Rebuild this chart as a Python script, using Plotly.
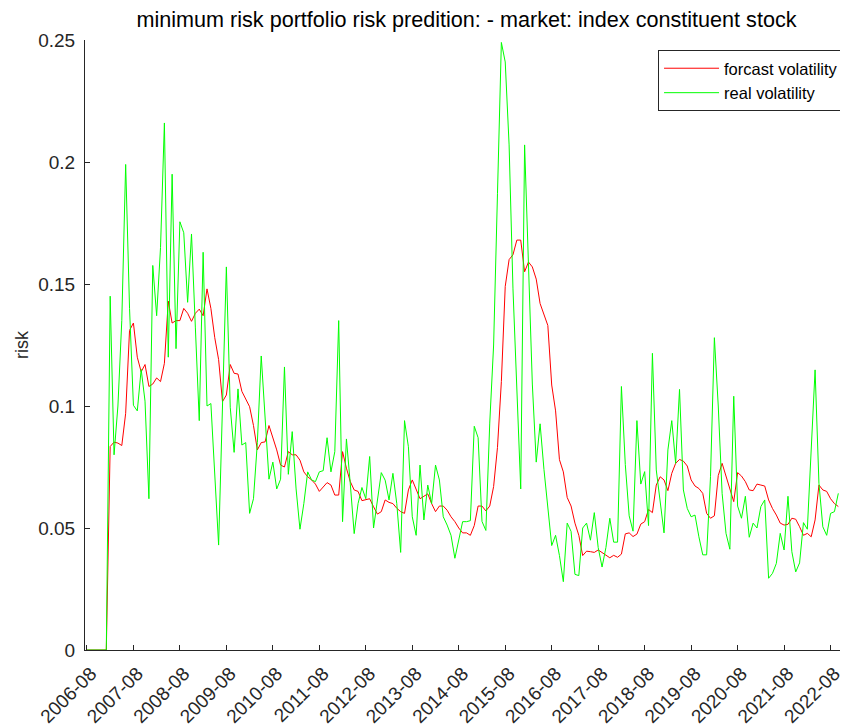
import plotly.graph_objects as go

# monthly observations, 2006-08 .. 2022-10
forecast_vol = [
    0, 0, 0, 0, 0, 0, 0.0834, 0.0852, 0.0848, 0.0838,
    0.097, 0.131, 0.134, 0.120, 0.114, 0.117, 0.108, 0.109, 0.1115, 0.110,
    0.1175, 0.143, 0.134, 0.135, 0.135, 0.140, 0.138, 0.1347, 0.138, 0.1397,
    0.137, 0.148, 0.140, 0.128, 0.119, 0.1018, 0.1045, 0.117, 0.1134, 0.1131,
    0.106, 0.1031, 0.0997, 0.092, 0.082, 0.085, 0.0853, 0.092, 0.087, 0.082,
    0.0758, 0.075, 0.0813, 0.080, 0.080, 0.0778, 0.073, 0.071, 0.0697, 0.068,
    0.065, 0.067, 0.0686, 0.0676, 0.0635, 0.0635, 0.0813, 0.0745, 0.069, 0.0656,
    0.065, 0.0612, 0.0615, 0.062, 0.0587, 0.0557, 0.0567, 0.0615, 0.0605, 0.060,
    0.0581, 0.0567, 0.056, 0.0656, 0.0697, 0.0656, 0.062, 0.063, 0.064, 0.060,
    0.0567, 0.059, 0.059, 0.0573, 0.0546, 0.0526, 0.050, 0.048, 0.048, 0.047,
    0.051, 0.059, 0.059, 0.057, 0.059, 0.067, 0.083, 0.110, 0.149, 0.160,
    0.162, 0.168, 0.168, 0.155, 0.159, 0.157, 0.152, 0.142, 0.137, 0.133,
    0.1086, 0.098, 0.078, 0.073, 0.0625, 0.059, 0.052, 0.047, 0.0387, 0.0405,
    0.0403, 0.040, 0.041, 0.040, 0.0388, 0.0378, 0.0388, 0.038, 0.0393, 0.0476,
    0.048, 0.0465, 0.0475, 0.0516, 0.0526, 0.0576, 0.0563, 0.0676, 0.071, 0.0697,
    0.0653, 0.0724, 0.0765, 0.0781, 0.0774, 0.0754, 0.0697, 0.0672, 0.0662, 0.0642,
    0.056, 0.054, 0.055, 0.0715, 0.0765, 0.0711, 0.0656, 0.0608, 0.0727, 0.0713,
    0.069, 0.0656, 0.0653, 0.068, 0.0676, 0.0672, 0.0615, 0.058, 0.0553, 0.052,
    0.0512, 0.0515, 0.054, 0.0536, 0.0505, 0.047, 0.0478, 0.0464, 0.0533, 0.0676,
    0.0656, 0.065, 0.062, 0.060, 0.0588,
]

real_vol = [
    0, 0, 0, 0, 0, 0, 0.145, 0.080, 0.100, 0.135,
    0.199, 0.140, 0.1003, 0.098, 0.115, 0.102, 0.062, 0.1576, 0.137, 0.165,
    0.216, 0.120, 0.195, 0.1235, 0.1755, 0.171, 0.1425, 0.1705, 0.132, 0.094,
    0.163, 0.100, 0.101, 0.074, 0.043, 0.100, 0.157, 0.0995, 0.081, 0.107,
    0.084, 0.085, 0.056, 0.062, 0.085, 0.1205, 0.094, 0.070, 0.077, 0.066,
    0.070, 0.116, 0.072, 0.0895, 0.066, 0.0495, 0.060, 0.073, 0.0697, 0.069,
    0.073, 0.0735, 0.087, 0.073, 0.0813, 0.135, 0.0526, 0.0865, 0.068, 0.0477,
    0.060, 0.0666, 0.062, 0.0793, 0.050, 0.062, 0.0727, 0.0696, 0.0615, 0.0724,
    0.060, 0.040, 0.094, 0.0833, 0.0546, 0.047, 0.0758, 0.0533, 0.0676, 0.060,
    0.0758, 0.0697, 0.0546, 0.0512, 0.047, 0.0376, 0.045, 0.0526, 0.0526, 0.053,
    0.0917, 0.087, 0.0527, 0.049, 0.093, 0.125, 0.187, 0.249, 0.241, 0.207,
    0.148, 0.110, 0.066, 0.207, 0.155, 0.109, 0.077, 0.0927, 0.074, 0.057,
    0.0428, 0.047, 0.0387, 0.028, 0.052, 0.0486, 0.031, 0.0305, 0.050, 0.052,
    0.045, 0.0563, 0.042, 0.034, 0.042, 0.054, 0.0442, 0.0442, 0.108, 0.076,
    0.055, 0.0487, 0.094, 0.068, 0.0731, 0.051, 0.1216, 0.0738, 0.060, 0.048,
    0.082, 0.094, 0.0765, 0.1068, 0.0656, 0.058, 0.0546, 0.0553, 0.0464, 0.039,
    0.039, 0.071, 0.128, 0.100, 0.0642, 0.0478, 0.0413, 0.104, 0.059, 0.054,
    0.063, 0.0462, 0.052, 0.050, 0.0588, 0.0615, 0.0294, 0.0314, 0.0355, 0.0478,
    0.041, 0.063, 0.0403, 0.032, 0.0357, 0.0522, 0.0495, 0.0833, 0.1148, 0.0683,
    0.0505, 0.047, 0.056, 0.0567, 0.0642,
]

tick_labels = ["2006-08", "2007-08", "2008-08", "2009-08", "2010-08", "2011-08",
               "2012-08", "2013-08", "2014-08", "2015-08", "2016-08", "2017-08",
               "2018-08", "2019-08", "2020-08", "2021-08", "2022-08"]
tick_months = [12 * k for k in range(len(tick_labels))]
y_ticks = [0, 0.05, 0.1, 0.15, 0.2, 0.25]
y_tick_text = ["0", "0.05", "0.1", "0.15", "0.2", "0.25"]

months = list(range(len(real_vol)))

FONT = "Liberation Sans, Arial, Helvetica, sans-serif"
AX = "#262626"

# page body has an 8px margin, so the figure is 840x718 placed at (8, 8)
W, H = 840, 718

fig = go.Figure()
fig.add_trace(go.Scatter(x=months, y=forecast_vol, mode="lines",
                         name="forcast volatility",
                         line=dict(color="#ff0000", width=1)))
fig.add_trace(go.Scatter(x=months, y=real_vol, mode="lines",
                         name="real volatility",
                         line=dict(color="#00ff00", width=1)))

fig.update_layout(
    width=W, height=H,
    margin=dict(l=77, r=0, t=32, b=76, autoexpand=False),
    paper_bgcolor="white", plot_bgcolor="white",
    font=dict(family=FONT, size=16, color="#000000"),
    title=dict(text="minimum risk portfolio risk predition: - market: index constituent stock",
               x=0.5, xref="paper", xanchor="center",
               y=1 - 11 / H, yref="container", yanchor="middle",
               font=dict(family=FONT, size=21.6, color="#000000")),
    showlegend=True,
    legend=dict(x=0.9948, xanchor="right", y=0.9836, yanchor="top",
                bordercolor=AX, borderwidth=1, bgcolor="white",
                font=dict(family=FONT, size=16.5, color="#000000"),
                itemwidth=55, tracegroupgap=0),
)

fig.update_xaxes(
    range=[-0.5, 196.5], automargin=False,
    tickmode="array", tickvals=tick_months, ticktext=tick_labels,
    tickangle=-45, ticks="inside", ticklen=5, tickcolor=AX, tickwidth=1,
    ticklabelstandoff=4, ticklabelshift=4,
    showline=True, linecolor=AX, linewidth=1, mirror=False,
    showgrid=False, zeroline=False,
    tickfont=dict(family=FONT, size=19, color=AX),
)
fig.update_yaxes(
    range=[0, 0.25], automargin=False,
    tickmode="array", tickvals=y_ticks, ticktext=y_tick_text,
    ticks="inside", ticklen=5, tickcolor=AX, tickwidth=1,
    ticklabelstandoff=5,
    showline=True, linecolor=AX, linewidth=1, mirror=False,
    showgrid=False, zeroline=False,
    tickfont=dict(family=FONT, size=19, color=AX),
    title=dict(text="risk", standoff=4, font=dict(family=FONT, size=18, color=AX)),
)

fig.write_html("out.html")
